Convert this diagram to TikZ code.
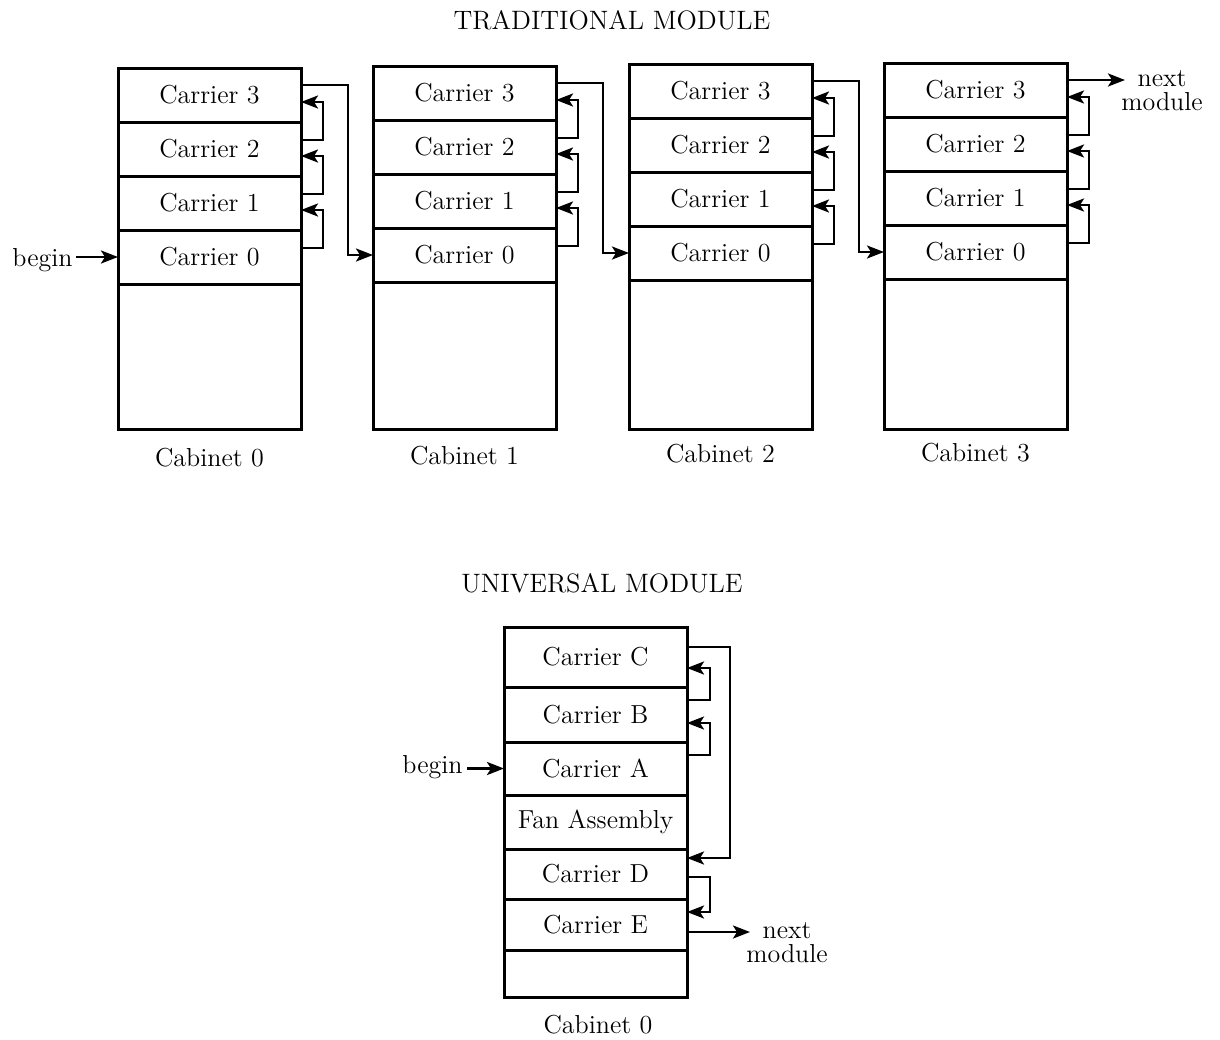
\documentclass[tikz,border=0pt]{standalone}
\usepackage{fontspec}
\usetikzlibrary{calc,arrows.meta}
\tikzset{
 box/.style={draw, line width=1.5pt, inner sep=0pt, outer sep=0pt, minimum width=91.5pt, font=\fontsize{13}{15}\selectfont},
 lbl/.style={inner sep=0pt, font=\fontsize{13}{12}\selectfont, align=center},
 conn/.style={line width=1.3pt, -{Stealth[length=8.5pt,width=6.5pt,inset=2pt]}},
 ttl/.style={inner sep=0pt, font=\fontsize{13.3}{15}\selectfont}
}
\begin{document}
\begin{tikzpicture}[x=0.5pt,y=-0.5pt]
\useasboundingbox (0,0) rectangle (1220,1039);
% ---------------- Traditional module
\node[ttl] (t1) at (612,20) {TRADITIONAL MODULE};
\foreach \i/\x/\t in {0/118/68,1/373/66,2/629/64,3/884/63}{
  \foreach \k in {0,...,3}{
    \node[box, minimum height=27pt] (c\i\k) at ({\x+91.5},{\t+27+54*(3-\k)}) {Carrier \k};
  }
  \pgfmathsetmacro\h{(429-\t-216)/2}
  \node[box, minimum height=\h pt] (e\i) at ({\x+91.5},{(\t+216+429)/2}) {};
  \node[lbl] (cab\i) at ({\x+91.5},{\t+390}) {Cabinet \i};
  \foreach \k/\kk in {0/1,1/2,2/3}{
    \draw[conn] ($(c\i\k.east)+(0,-9)$) -- ++(22,0) |- ($(c\i\kk.east)+(0,7)$);
  }
}
\foreach \i/\j in {0/1,1/2,2/3}{
  \draw[conn] ($(c\i3.east)+(0,-10)$) -- ++(47,0) |- (c\j0.west);
}
\node[lbl] (nm1) at (1162,91) {next\\module};
\draw[conn] ($(c33.east)+(0,-10)$) -- ++(58,0);
\node[lbl, anchor=base east] (b1) at (73,266) {begin};
\draw[conn] ($(b1.east |- c00.west)+(3,0)$) -- (c00.west);
% ---------------- Universal module
\node[ttl] (t2) at (602,583) {UNIVERSAL MODULE};
\foreach \n/\l/\a/\b in {uC/Carrier C/627/687, uB/Carrier B/687/742, uA/Carrier A/742/795, uF/Fan Assembly/795/849, uD/Carrier D/849/899, uE/Carrier E/899/950, uX//950/997}{
  \pgfmathsetmacro\h{(\b-\a)/2}
  \node[box, minimum height=\h pt] (\n) at (595.5,{(\a+\b)/2}) {\l};
}
\draw[conn] ($(uB.east)+(0,-14.5)$) -- ++(23,0) |- ($(uC.east)+(0,11)$);
\draw[conn] ($(uA.east)+(0,-13.5)$) -- ++(23,0) |- ($(uB.east)+(0,8.5)$);
\draw[conn] ($(uC.east)+(0,-10)$) -- ++(43,0) |- ($(uD.east)+(0,-16)$);
\draw[conn] ($(uD.east)+(0,3)$) -- ++(23,0) |- ($(uE.east)+(0,-12.5)$);
\draw[conn] ($(uE.east)+(0,7.5)$) -- ++(63,0);
\node[lbl] (nm2) at (787,943) {next\\module};
\node[lbl, anchor=base east] (b2) at (463,773) {begin};
\draw[conn] ($(b2.east |- uA.west)+(4,0)$) -- (uA.west);
\node[lbl] (cabu) at (598,1025) {Cabinet 0};
\end{tikzpicture}
\end{document}
